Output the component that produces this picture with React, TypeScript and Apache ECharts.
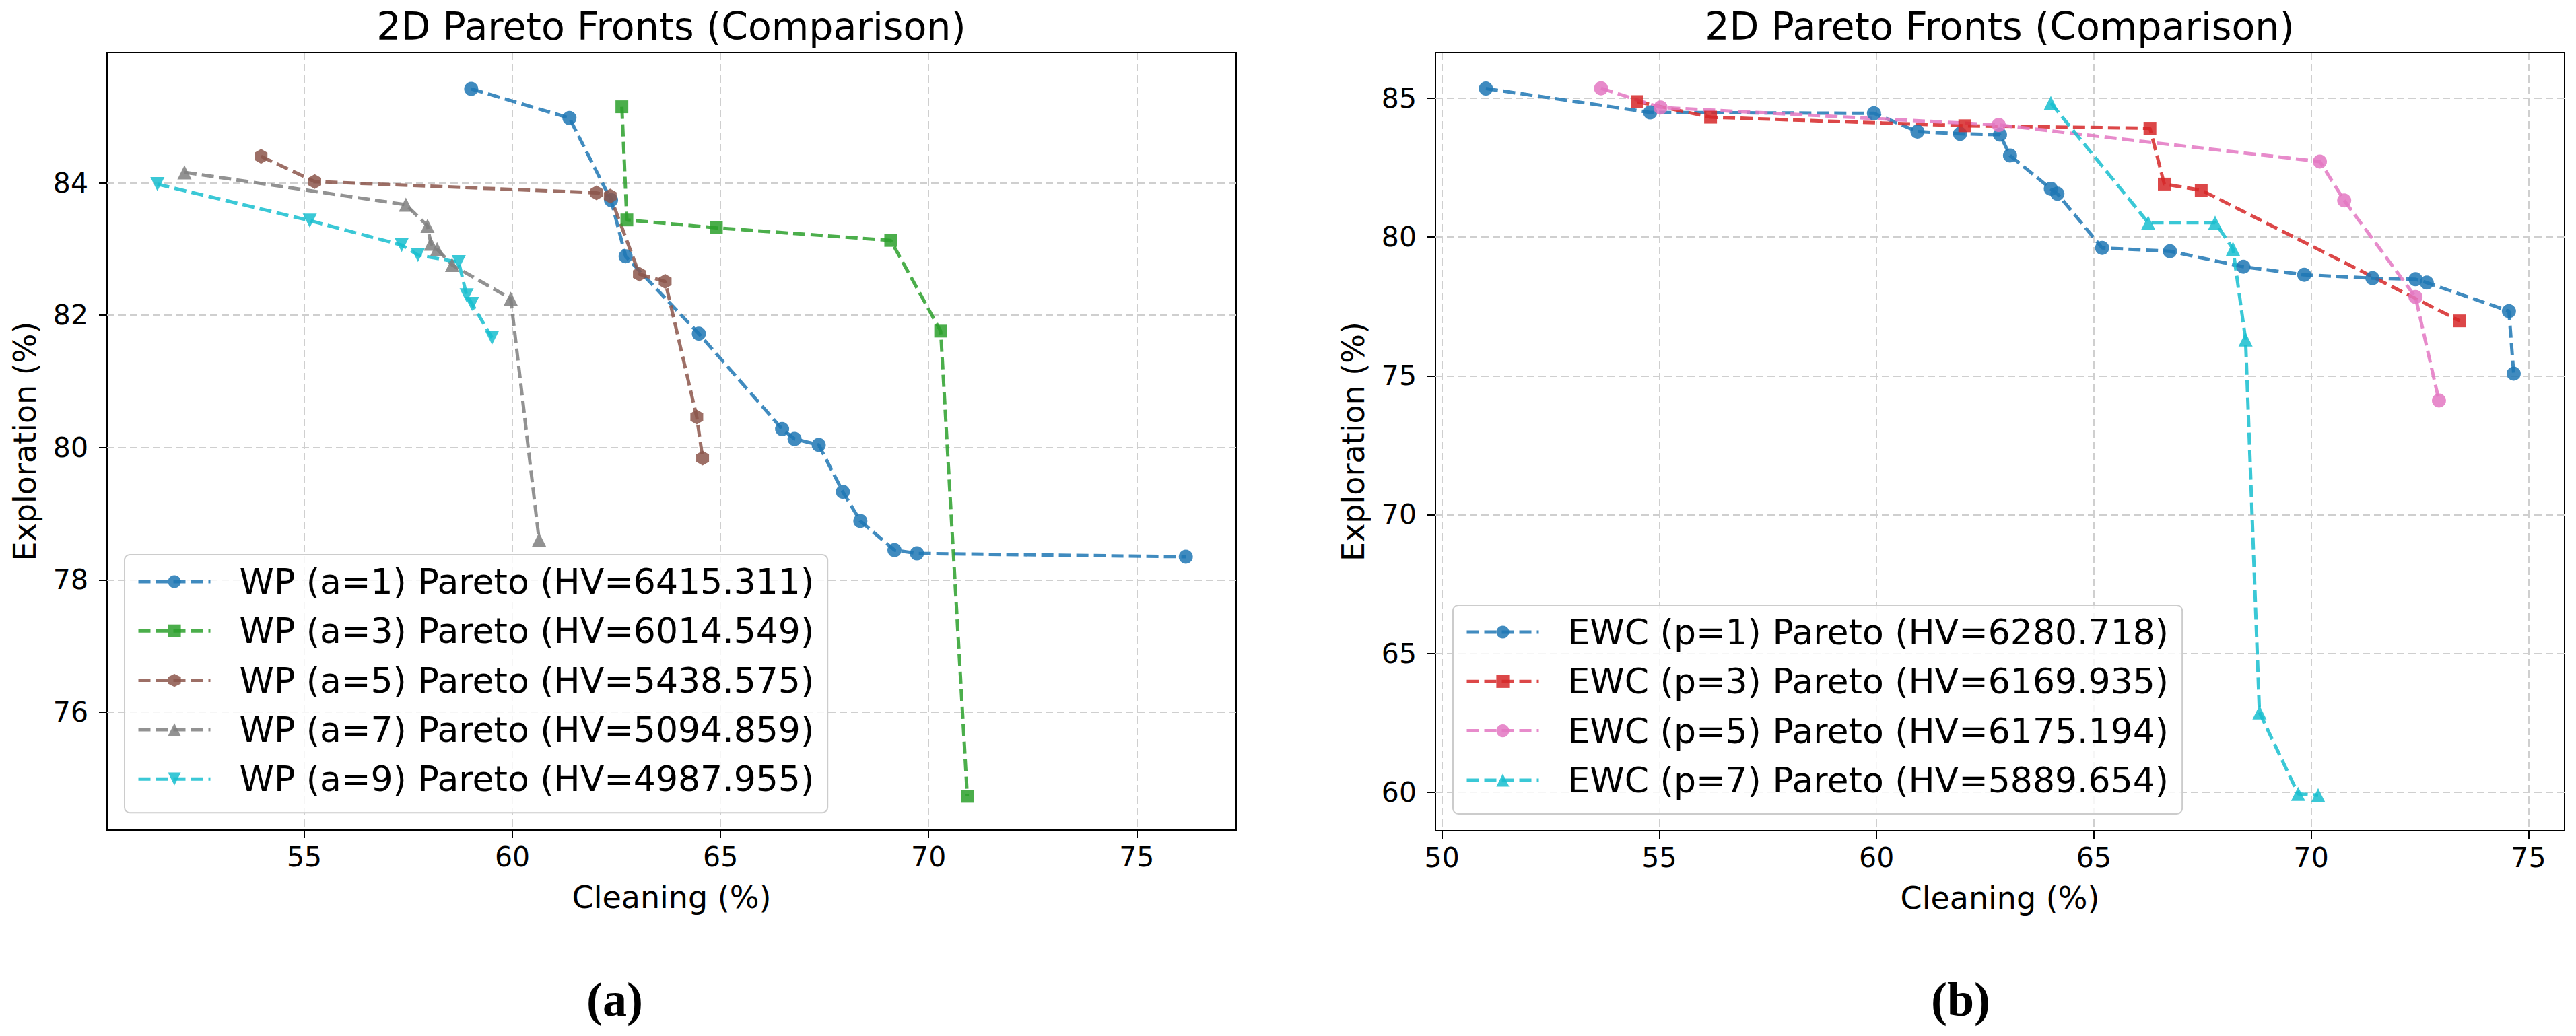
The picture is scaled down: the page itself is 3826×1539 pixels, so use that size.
import { useEffect, useRef } from 'react';
import * as echarts from 'echarts';

type Pt = [number, number];

// (a) WP runs, Cleaning (%) vs Exploration (%)
const wpNames = [
  'WP (a=1) Pareto (HV=6415.311)',
  'WP (a=3) Pareto (HV=6014.549)',
  'WP (a=5) Pareto (HV=5438.575)',
  'WP (a=7) Pareto (HV=5094.859)',
  'WP (a=9) Pareto (HV=4987.955)',
];
const wpA1: Pt[] = [
  [59.01, 85.42], [61.37, 84.98], [62.37, 83.74], [62.72, 82.89], [64.48, 81.72],
  [66.48, 80.28], [66.78, 80.13], [67.36, 80.04], [67.94, 79.33], [68.36, 78.89],
  [69.18, 78.45], [69.72, 78.4], [76.18, 78.35],
];
const wpA3: Pt[] = [
  [62.63, 85.15], [62.75, 83.44], [64.9, 83.32], [69.09, 83.13], [70.29, 81.76], [70.93, 74.73],
];
const wpA5: Pt[] = [
  [53.96, 84.4], [55.25, 84.02], [62.02, 83.85], [62.35, 83.8], [63.05, 82.62],
  [63.67, 82.51], [64.43, 80.46], [64.57, 79.84],
];
const wpA7: Pt[] = [
  [52.12, 84.16], [57.44, 83.67], [57.96, 83.35], [58.04, 83.08], [58.19, 83.0],
  [58.55, 82.76], [59.96, 82.25], [60.64, 78.61],
];
const wpA9: Pt[] = [
  [51.47, 83.98], [55.13, 83.43], [57.34, 83.06], [57.73, 82.91], [58.71, 82.8],
  [58.9, 82.3], [59.03, 82.17], [59.51, 81.66],
];

// (b) EWC runs
const ewcNames = [
  'EWC (p=1) Pareto (HV=6280.718)',
  'EWC (p=3) Pareto (HV=6169.935)',
  'EWC (p=5) Pareto (HV=6175.194)',
  'EWC (p=7) Pareto (HV=5889.654)',
];
const ewcP1: Pt[] = [
  [51.01, 85.35], [54.79, 84.49], [59.94, 84.46], [60.94, 83.8], [61.92, 83.72],
  [62.84, 83.69], [63.07, 82.94], [64.01, 81.74], [64.16, 81.56], [65.19, 79.61],
  [66.75, 79.49], [68.44, 78.93], [69.84, 78.64], [71.41, 78.52], [72.4, 78.48],
  [72.66, 78.36], [74.55, 77.33], [74.66, 75.08],
];
const ewcP3: Pt[] = [
  [54.49, 84.88], [56.18, 84.32], [62.03, 84.01], [66.29, 83.92], [66.62, 81.91],
  [67.47, 81.69], [73.42, 76.98],
];
const ewcP5: Pt[] = [
  [53.66, 85.36], [55.03, 84.67], [62.81, 84.04], [70.2, 82.72], [70.76, 81.32],
  [72.4, 77.84], [72.94, 74.11],
];
const ewcP7: Pt[] = [
  [64.01, 84.83], [66.25, 80.52], [67.79, 80.52], [68.2, 79.58], [68.49, 76.31],
  [68.81, 62.87], [69.7, 59.94], [70.16, 59.89],
];

const leftXTicks = [55, 60, 65, 70, 75];
const leftYTicks = [76, 78, 80, 82, 84];
const rightXTicks = [50, 55, 60, 65, 70, 75];
const rightYTicks = [60, 65, 70, 75, 80, 85];

const FONT = 'DejaVu Sans';
const HEXAGON = 'path://M0,-1L0.866,-0.5L0.866,0.5L0,1L-0.866,0.5L-0.866,-0.5Z';

const valueAxis = (gridIndex: number, min: number, max: number, ticks: number[], name: string, isY: boolean) => ({
  type: 'value' as const,
  gridIndex,
  min,
  max,
  name,
  nameLocation: 'middle' as const,
  nameGap: isY ? 99 : 77,
  nameTextStyle: { fontFamily: FONT, fontSize: 46, color: '#000' },
  axisLine: { show: false },
  axisTick: { show: true, length: 12, customValues: ticks, lineStyle: { color: '#000', width: 2 } },
  axisLabel: { customValues: ticks, fontFamily: FONT, fontSize: 41, color: '#000', margin: isY ? 28 : 19 },
  splitLine: { show: true, lineStyle: { color: '#cfcfcf', width: 2, type: [11, 6] } },
});

const front = (name: string, data: Pt[], color: string, symbol: string, idx: number, extra: object = {}) => ({
  type: 'line' as const,
  name,
  data,
  xAxisIndex: idx,
  yAxisIndex: idx,
  symbol,
  symbolSize: 21,
  symbolKeepAspect: true,
  lineStyle: { color, width: 5, type: [18, 8], opacity: 0.85 },
  itemStyle: { color, opacity: 0.85 },
  emphasis: { disabled: true },
  silent: true,
  ...extra,
});

const legendBase = {
  orient: 'vertical' as const,
  itemWidth: 107,
  itemHeight: 24,
  itemGap: 13.3,
  padding: [10, 20, 20, 18],
  backgroundColor: 'rgba(255,255,255,0.8)',
  borderColor: '#cccccc',
  borderWidth: 2,
  borderRadius: 8,
  selectedMode: false,
  lineStyle: { width: 5, type: [18, 8] },
  textStyle: { fontFamily: FONT, fontSize: 52, color: '#000', lineHeight: 60, padding: [0, 0, 0, 38] },
};

const App = () => {
  const chartRef = useRef<HTMLDivElement>(null);

  useEffect(() => {
    if (!chartRef.current) return;
    const chart = echarts.init(chartRef.current, null, { renderer: 'svg' });

    chart.setOption({
      animation: false,
      backgroundColor: '#fff',
      grid: [
        { left: 159, top: 78, width: 1677, height: 1155, show: true, borderColor: '#000', borderWidth: 2, backgroundColor: 'transparent' },
        { left: 2132, top: 78, width: 1677, height: 1156, show: true, borderColor: '#000', borderWidth: 2, backgroundColor: 'transparent' },
      ],
      xAxis: [
        valueAxis(0, 50.26, 77.39, leftXTicks, 'Cleaning (%)', false),
        valueAxis(1, 49.85, 75.83, rightXTicks, 'Cleaning (%)', false),
      ],
      yAxis: [
        valueAxis(0, 74.22, 85.97, leftYTicks, 'Exploration (%)', true),
        valueAxis(1, 58.61, 86.65, rightYTicks, 'Exploration (%)', true),
      ],
      title: [
        { text: '2D Pareto Fronts (Comparison)', left: 997, top: 10, textAlign: 'center', textVerticalAlign: 'top', padding: 0,
          textStyle: { fontFamily: FONT, fontSize: 57, fontWeight: 'normal', color: '#000' } },
        { text: '2D Pareto Fronts (Comparison)', left: 2970, top: 10, textAlign: 'center', textVerticalAlign: 'top', padding: 0,
          textStyle: { fontFamily: FONT, fontSize: 57, fontWeight: 'normal', color: '#000' } },
      ],
      legend: [
        { ...legendBase, data: wpNames, left: 185, top: 824 },
        { ...legendBase, data: ewcNames, left: 2158, top: 899 },
      ],
      graphic: [
        { type: 'text', x: 913, y: 1485, silent: true,
          style: { text: '(a)', fontFamily: 'Liberation Serif', fontSize: 72, fontWeight: 'bold', fill: '#000', align: 'center', verticalAlign: 'middle' } },
        { type: 'text', x: 2912, y: 1485, silent: true,
          style: { text: '(b)', fontFamily: 'Liberation Serif', fontSize: 72, fontWeight: 'bold', fill: '#000', align: 'center', verticalAlign: 'middle' } },
      ],
      series: [
        front(wpNames[0], wpA1, '#1f77b4', 'circle', 0),
        front(wpNames[1], wpA3, '#2ca02c', 'rect', 0, { symbolSize: 19 }),
        front(wpNames[2], wpA5, '#8c564b', HEXAGON, 0, { symbolSize: 22 }),
        front(wpNames[3], wpA7, '#7f7f7f', 'triangle', 0),
        front(wpNames[4], wpA9, '#17becf', 'triangle', 0, { symbolRotate: 180 }),
        front(ewcNames[0], ewcP1, '#1f77b4', 'circle', 1),
        front(ewcNames[1], ewcP3, '#d62728', 'rect', 1, { symbolSize: 19 }),
        front(ewcNames[2], ewcP5, '#e377c2', 'circle', 1),
        front(ewcNames[3], ewcP7, '#17becf', 'triangle', 1),
      ],
    });

    return () => {
      chart.dispose();
    };
  }, []);

  return <div ref={chartRef} style={{ position: 'fixed', left: 0, top: 0, width: '3826px', height: '1539px' }} />;
};

export default App;
